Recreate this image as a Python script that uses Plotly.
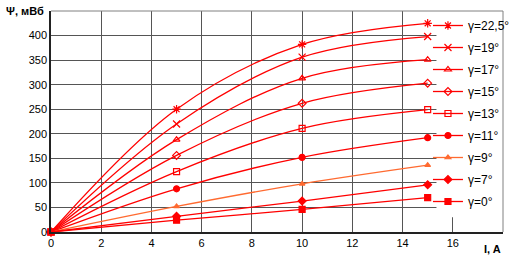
import plotly.graph_objects as go

current = [0, 5, 10, 15]
labels = ["γ=22,5°", "γ=19°", "γ=17°", "γ=15°", "γ=13°", "γ=11°", "γ=9°", "γ=7°", "γ=0°"]
psi_22_5 = [0, 250, 382, 425]
psi_19 = [0, 220, 356, 398]
psi_17 = [0, 188, 313, 351]
psi_15 = [0, 156, 262, 303]
psi_13 = [0, 123, 211, 249]
psi_11 = [0, 88, 152, 192]
psi_9 = [0, 52, 98, 136]
psi_7 = [0, 32, 63, 96]
psi_0 = [0, 24, 46, 70]
series = [psi_22_5, psi_19, psi_17, psi_15, psi_13, psi_11, psi_9, psi_7, psi_0]
symbols = ["asterisk-open", "x-thin-open", "triangle-up-open", "diamond-open", "square-open",
           "circle", "triangle-up", "diamond", "square"]
sizes = [7, 7, 6, 6, 6, 6, 5, 6, 6]
colors = ["#FF0000"] * 6 + ["#FF6A30"] + ["#FF0000"] * 2

x_ticks = list(range(0, 17, 2))
y_ticks = list(range(0, 401, 50))

fig = go.Figure()
for i, (lab, ys) in enumerate(zip(labels, series)):
    fig.add_trace(go.Scatter(
        x=current, y=ys, name=lab, mode="lines+markers",
        line=dict(color=colors[i], width=1.3, shape="spline", smoothing=1.0),
        marker=dict(symbol=symbols[i], size=sizes[i], color=colors[i],
                    line=dict(color=colors[i], width=1.2)),
        legendgroup=str(i), cliponaxis=False,
    ))

frame = dict(color="#808080", width=1)
fig.update_layout(
    width=512, height=265,
    margin=dict(l=51, r=9, t=11, b=33, autoexpand=False),
    paper_bgcolor="white", plot_bgcolor="white",
    font=dict(family="Arial, Liberation Sans", size=11, color="black"),
    showlegend=True,
    legend=dict(x=0.834, xanchor="left", y=1.0, yanchor="top",
                bgcolor="rgba(0,0,0,0)", borderwidth=0, tracegroupgap=3,
                font=dict(size=12, family="Arial, Liberation Sans"),
                itemwidth=30, traceorder="grouped"),
    xaxis=dict(range=[0, 18], tickvals=x_ticks, ticktext=[str(v) for v in x_ticks],
               showgrid=True, gridcolor="#555555", gridwidth=1, zeroline=False,
               showline=True, linecolor="#222222", linewidth=1.5, ticks="", ticklen=0,
               tickfont=dict(size=11)),
    yaxis=dict(range=[0, 450], tickvals=y_ticks, ticktext=[str(v) for v in y_ticks],
               showgrid=True, gridcolor="#555555", gridwidth=1, zeroline=False,
               showline=True, linecolor="#222222", linewidth=1.5, ticks="", ticklen=0,
               tickfont=dict(size=11)),
    shapes=[
        # white panel behind the legend hiding the gridlines
        dict(type="rect", xref="x", yref="y", x0=15.35, x1=18, y0=30, y1=450,
             line=dict(width=0), fillcolor="white", layer="between"),
        dict(type="line", xref="paper", yref="paper", x0=0, y0=1, x1=1, y1=1,
             line=frame, layer="above"),
        dict(type="line", xref="paper", yref="paper", x0=1, y0=0, x1=1, y1=1,
             line=frame, layer="above"),
    ],
    annotations=[
        dict(text="<b>Ψ, мВб</b>", xref="paper", yref="paper", x=-0.01, y=1.0,
             xanchor="right", yanchor="middle", showarrow=False, font=dict(size=11)),
        dict(text="<b>I, A</b>", xref="paper", yref="paper", x=1.0, y=-0.04,
             xanchor="right", yanchor="top", showarrow=False, font=dict(size=11)),
    ],
)

fig.write_html("out.html")
